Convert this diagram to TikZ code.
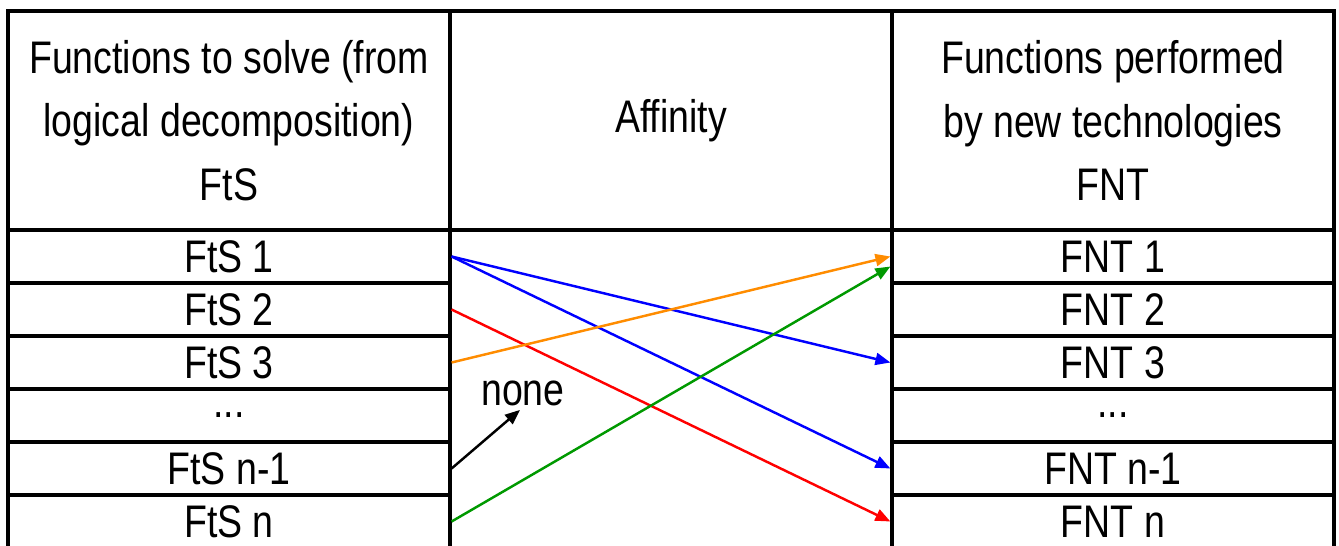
\documentclass[tikz,border=0pt]{standalone}
\usepackage{fontspec}
\setmainfont[FakeStretch=0.82]{Liberation Sans}
\usepackage{xcolor}
\usepackage{tikz}
\usetikzlibrary{arrows.meta}
\definecolor{affblue}{RGB}{0,0,255}
\definecolor{affred}{RGB}{255,0,0}
\definecolor{afforange}{RGB}{255,140,0}
\definecolor{affgreen}{RGB}{0,153,0}

\begin{document}
\begin{tikzpicture}[
  cell/.style={draw, line width=1.8pt, minimum width=8.84cm, minimum height=1.06cm, inner sep=0pt, font=\fontsize{26}{36}\selectfont},
  headcell/.style={cell, minimum height=4.38cm, align=center},
  map/.style={-{Triangle[length=0.3cm,width=0.24cm]}, line width=1.4pt},
]
  \useasboundingbox (0,0) rectangle (26.78,-10.9);
  \clip (0,0) rectangle (26.78,-10.9);

  % Header row
  \node[headcell] (ftsh) at (4.58,-2.41) {Functions to solve (from\\logical decomposition)\\FtS};
  \node[headcell] (affh) at (13.42,-2.41) {Affinity};
  \node[headcell] (fnth) at (22.26,-2.41) {Functions performed\\by new technologies\\FNT};

  % Middle column body
  \node[cell, minimum height=6.36cm] (affb) at (13.42,-7.78) {};

  % Functions to solve (left)
  \node[cell] (fts1) at (4.58,-5.13) {FtS 1};
  \node[cell] (fts2) at (4.58,-6.19) {FtS 2};
  \node[cell] (fts3) at (4.58,-7.25) {FtS 3};
  \node[cell] (fts4) at (4.58,-8.31) {...};
  \node[cell] (fts5) at (4.58,-9.37) {FtS n-1};
  \node[cell] (fts6) at (4.58,-10.43) {FtS n};

  % Functions of new technologies (right)
  \node[cell] (fnt1) at (22.26,-5.13) {FNT 1};
  \node[cell] (fnt2) at (22.26,-6.19) {FNT 2};
  \node[cell] (fnt3) at (22.26,-7.25) {FNT 3};
  \node[cell] (fnt4) at (22.26,-8.31) {...};
  \node[cell] (fnt5) at (22.26,-9.37) {FNT n-1};
  \node[cell] (fnt6) at (22.26,-10.43) {FNT n};

  \node[font=\fontsize{26}{36}\selectfont, inner sep=2pt] (none) at (10.46,-7.87) {none};

  % Affinity links
  \draw[map, affblue] (fts1.east) -- (fnt3.west);
  \draw[map, affblue] (fts1.east) -- (fnt5.west);
  \draw[map, affred] (fts2.east) -- (fnt6.west);
  \draw[map, afforange] (fts3.east) -- (fnt1.west);
  \draw[map, affgreen] (fts6.east) -- ([yshift=-0.2cm]fnt1.west);
  \draw[map, black] (fts5.east) -- ([xshift=-0.06cm]none.south);
\end{tikzpicture}
\end{document}
